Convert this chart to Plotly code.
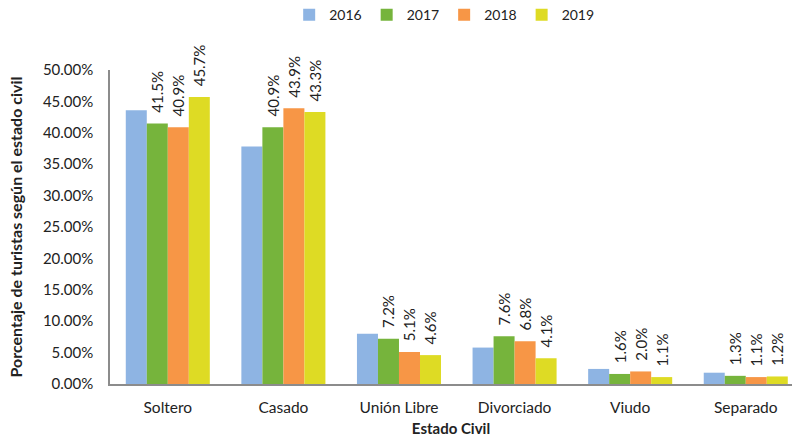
import plotly.graph_objects as go

categories = ["Soltero", "Casado", "Unión Libre", "Divorciado", "Viudo", "Separado"]
years = ["2016", "2017", "2018", "2019"]
v2016 = [0.436, 0.378, 0.080, 0.058, 0.024, 0.018]
v2017 = [0.415, 0.409, 0.072, 0.076, 0.016, 0.013]
v2018 = [0.409, 0.439, 0.051, 0.068, 0.020, 0.011]
v2019 = [0.457, 0.433, 0.046, 0.041, 0.011, 0.012]
colors = ["#8EB4E3", "#76B43C", "#F79646", "#DEDB24"]
show_labels = [False, True, True, True]

font = "Lato, Calibri, Carlito, sans-serif"
fig = go.Figure()
for name, vals, col, lab in zip(years, [v2016, v2017, v2018, v2019], colors, show_labels):
    fig.add_trace(go.Bar(
        name=name, x=categories, y=vals,
        marker=dict(color=col, line=dict(width=0)),
        texttemplate="\u00a0\u00a0%{y:.1%}" if lab else None,
        textposition="outside" if lab else "none",
        textangle=-90,
        constraintext="none",
        textfont=dict(size=15, color="#222", family=font),
        cliponaxis=False,
    ))

fig.update_layout(
    width=792, height=438,
    margin=dict(l=110, r=0, t=70, b=54, autoexpand=False),
    paper_bgcolor="white", plot_bgcolor="white",
    barmode="group", bargap=0.273, bargroupgap=0,
    font=dict(family=font, size=14, color="#222"),
    legend=dict(orientation="h", x=0.49, xanchor="center", y=1.175, yanchor="middle",
                font=dict(size=14), traceorder="normal"),
)
fig.update_xaxes(range=[-0.5, 5.4], showline=True, linecolor="#8C8C8C", linewidth=1.5,
                 ticks="", showgrid=False, automargin=False, ticklabelstandoff=9,
                 tickfont=dict(size=15.5),
                 title=dict(text="<b>Estado Civil</b>", font=dict(size=15), standoff=8))
fig.update_yaxes(range=[0, 0.5], dtick=0.05, tickformat=".2%", showline=True,
                 linecolor="#8C8C8C", linewidth=1.5, ticks="", showgrid=False, zeroline=False,
                 automargin=False, ticklabelstandoff=12, tickfont=dict(size=15),
                 title=dict(text="<b>Porcentaje de turistas según el estado civil</b>",
                            font=dict(size=16), standoff=16))
fig.write_html("out.html")
